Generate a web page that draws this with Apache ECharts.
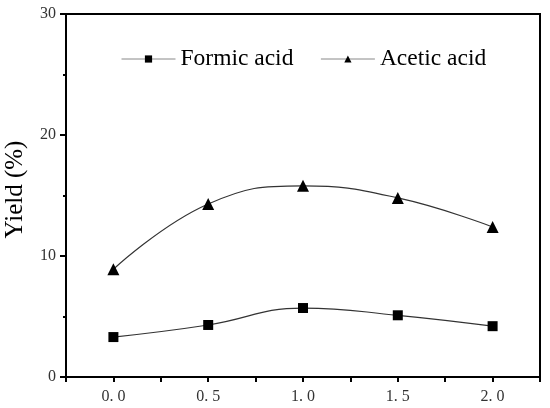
<!DOCTYPE html>
<html>
<head>
<meta charset="utf-8">
<script src="https://cdn.jsdelivr.net/npm/echarts@6/dist/echarts.min.js"></script>
<style>
  html, body { margin: 0; padding: 0; background: #fff; }
  #main { width: 550px; height: 408px; }
</style>
</head>
<body>
<div id="main"></div>
<script>
// values
const xValues = [0.0, 0.5, 1.0, 1.5, 2.0];
const formicAcid = [3.3, 4.3, 5.7, 5.1, 4.2];
const aceticAcid = [8.9, 14.3, 15.8, 14.8, 12.4];
const seriesNames = ["Formic acid", "Acetic acid"];

const toPairs = (ys) => xValues.map((x, i) => [x, ys[i]]);

var myChart = echarts.init(document.getElementById("main"));

const tickFont = { fontFamily: "Liberation Serif", fontSize: 16, color: "#333" };

var option = {
  animation: false,
  grid: {
    left: 66,
    right: 10,
    top: 14,
    bottom: 31,
    outerBoundsMode: "none",
    show: true,
    borderColor: "#000",
    borderWidth: 2,
  },
  legend: {
    left: 116,
    top: 42,
    itemWidth: 54,
    itemHeight: 9,
    itemGap: 27,
    lineStyle: { color: "#888", width: 1 },
    textStyle: { fontFamily: "Liberation Serif", fontSize: 23.5, color: "#000" },
    data: seriesNames,
  },
  xAxis: {
    type: "value",
    min: -0.25,
    max: 2.25,
    interval: 0.25,
    axisLine: { lineStyle: { color: "#000", width: 2 } },
    axisTick: { length: 5, lineStyle: { color: "#000", width: 2 } },
    splitLine: { show: false },
    axisLabel: {
      ...tickFont,
      margin: 12,
      formatter: (v) => {
        const r = Math.round(v * 100) / 100;
        if (r < 0 || r > 2) return "";
        if (Math.abs(r * 2 - Math.round(r * 2)) > 1e-6) return "";
        return r.toFixed(1).replace(".", ". ");
      },
    },
  },
  yAxis: {
    type: "value",
    min: 0,
    max: 30,
    interval: 10,
    name: "Yield (%)",
    nameLocation: "middle",
    nameGap: 38,
    nameTextStyle: {
      fontFamily: "Liberation Serif",
      fontSize: 25,
      color: "#000",
      padding: [0, 0, 0, 12],
    },
    axisLine: { show: true, onZero: false, lineStyle: { color: "#000", width: 2 } },
    axisTick: { length: 6, lineStyle: { color: "#000", width: 2 } },
    minorTick: { show: true, splitNumber: 2, length: 3, lineStyle: { color: "#000", width: 2 } },
    splitLine: { show: false },
    axisLabel: { ...tickFont, margin: 10 },
  },
  series: [
    {
      name: seriesNames[0],
      type: "line",
      data: toPairs(formicAcid),
      smooth: 0.45,
      symbol: "rect",
      symbolSize: 10,
      itemStyle: { color: "#000" },
      lineStyle: { color: "#333", width: 1.2 },
    },
    {
      name: seriesNames[1],
      type: "line",
      data: toPairs(aceticAcid),
      smooth: 0.45,
      symbol: "triangle",
      symbolSize: 12,
      itemStyle: { color: "#000" },
      lineStyle: { color: "#333", width: 1.2 },
    },
  ],
};
myChart.setOption(option);
</script>
</body>
</html>
